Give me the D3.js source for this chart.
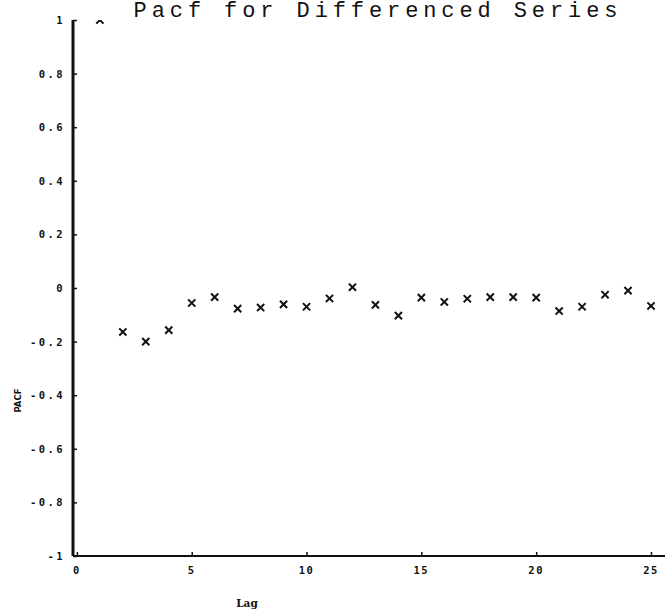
<!DOCTYPE html>
<html>
<head>
<meta charset="utf-8">
<script src="https://cdn.jsdelivr.net/npm/d3@7"></script>
<style>
  body { margin: 0; background: #fff; }
  text { fill: #111; }
</style>
</head>
<body>
<div id="viz"></div>
<script>
const width = 665;
const height = 616;
const margin = {top: 20, right: 0, bottom: 60, left: 73};

// partial autocorrelations
const lags = [1, 2, 3, 4, 5, 6, 7, 8, 9, 10, 11, 12, 13, 14, 15, 16, 17, 18, 19, 20, 21, 22, 23, 24, 25];
const pacf = [1.0, -0.164, -0.20, -0.157, -0.056, -0.034, -0.077, -0.073, -0.061, -0.07, -0.039, 0.003,
              -0.063, -0.103, -0.036, -0.052, -0.04, -0.034, -0.034, -0.036, -0.086, -0.07, -0.025, -0.01, -0.067];
const xTicks = [0, 5, 10, 15, 20, 25];
const yTicks = [1, 0.8, 0.6, 0.4, 0.2, 0, -0.2, -0.4, -0.6, -0.8, -1];

const svg = d3.select('#viz')
    .append('svg')
        .attr('width', width)
        .attr('height', height);

const x = d3.scaleLinear()
    .domain([-0.17, 25.61])
    .range([margin.left, width - margin.right]);

const y = d3.scaleLinear()
    .domain([-1, 1])
    .range([height - margin.bottom, margin.top]);

// title
svg.append('text')
    .attr('x', 378)
    .attr('y', 17)
    .attr('text-anchor', 'middle')
    .attr('font-family', 'Liberation Mono, DejaVu Sans Mono, monospace')
    .attr('font-size', 22)
    .attr('letter-spacing', 4.9)
    .text('Pacf for Differenced Series');

// y axis
const yAxis = svg.append('g')
    .attr('transform', `translate(${margin.left}, 0)`)
    .call(d3.axisRight(y).tickValues(yTicks).tickSize(4).tickFormat(d => ''));
yAxis.select('.domain').attr('stroke', '#111').attr('stroke-width', 3).attr('d', `M0,${y(1)}V${y(-1)}`);
yAxis.selectAll('.tick line').attr('stroke', '#111').attr('stroke-width', 1.5);

svg.append('g').selectAll('text')
    .data(yTicks)
    .join('text')
        .attr('x', 65)
        .attr('y', d => y(d) + 4)
        .attr('text-anchor', 'end')
        .attr('font-family', 'DejaVu Sans Mono, monospace')
        .attr('font-size', 10.5)
        .attr('font-weight', 'bold')
        .attr('letter-spacing', 2.4)
        .text(d => d === 0 || d === 1 || d === -1 ? String(d) : d3.format('.1f')(d).replace('−', '-'));

// x axis
const xAxis = svg.append('g')
    .attr('transform', `translate(0, ${y(-1)})`)
    .call(d3.axisTop(x).tickValues(xTicks).tickSize(4).tickFormat(d => ''));
xAxis.select('.domain').attr('stroke', '#111').attr('stroke-width', 2).attr('d', `M${margin.left},0H${width}`);
xAxis.selectAll('.tick line').attr('stroke', '#111').attr('stroke-width', 1.5);

svg.append('g').selectAll('text')
    .data(xTicks)
    .join('text')
        .attr('x', d => x(d))
        .attr('y', y(-1) + 18)
        .attr('text-anchor', 'middle')
        .attr('font-family', 'DejaVu Sans Mono, monospace')
        .attr('font-size', 10.5)
        .attr('font-weight', 'bold')
        .attr('letter-spacing', 1.5)
        .text(d => d);

// axis titles
svg.append('text')
    .attr('x', 247)
    .attr('y', 607)
    .attr('text-anchor', 'middle')
    .attr('font-family', 'DejaVu Serif, serif')
    .attr('font-size', 10.5)
    .attr('font-weight', 'bold')
    .text('Lag');

svg.append('text')
    .attr('transform', `translate(21, ${y(-0.42)}) rotate(-90)`)
    .attr('text-anchor', 'middle')
    .attr('font-family', 'DejaVu Sans, sans-serif')
    .attr('font-size', 8.5)
    .attr('font-weight', 'bold')
    .text('PACF');

// markers, clipped at the top of the plot (lag 1 shows only its lower half)
svg.append('clipPath')
    .attr('id', 'plotClip')
    .append('rect')
        .attr('x', margin.left)
        .attr('y', y(1))
        .attr('width', width - margin.left)
        .attr('height', y(-1) - y(1));

const s = 3.6;
svg.append('g')
    .attr('clip-path', 'url(#plotClip)')
    .selectAll('path')
    .data(lags.map((l, i) => ({lag: l, v: pacf[i]})))
    .join('path')
        .attr('d', d => {
            const cx = x(d.lag), cy = y(d.v);
            return `M${cx - s},${cy - s}L${cx + s},${cy + s}M${cx - s},${cy + s}L${cx + s},${cy - s}`;
        })
        .attr('stroke', '#111')
        .attr('stroke-width', 2)
        .attr('fill', 'none');
</script>
</body>
</html>
